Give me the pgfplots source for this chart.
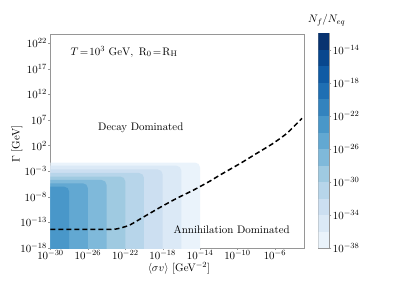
\documentclass[border=0pt]{standalone}
\usepackage{fontspec}
\usepackage{pgfplots}
\pgfplotsset{compat=1.18}
\definecolor{c0}{RGB}{234,243,251}
\definecolor{c1}{RGB}{219,233,246}
\definecolor{c2}{RGB}{204,223,241}
\definecolor{c3}{RGB}{183,213,234}
\definecolor{c4}{RGB}{159,202,225}
\definecolor{c5}{RGB}{127,185,218}
\definecolor{c6}{RGB}{98,168,210}
\definecolor{c7}{RGB}{73,151,201}
\definecolor{c8}{RGB}{51,131,190}
\definecolor{c9}{RGB}{31,111,179}
\definecolor{c10}{RGB}{16,91,164}
\definecolor{c11}{RGB}{8,71,142}
\definecolor{c12}{RGB}{8,51,112}
\definecolor{framegray}{RGB}{150,150,150}
\begin{document}
\fontsize{10.95}{13}\selectfont
\begin{tikzpicture}
\useasboundingbox (0,0) rectangle (407bp,285bp);
\begin{axis}[
  at={(50.5bp,37bp)}, anchor=south west,
  scale only axis, width=253.5bp, height=214bp,
  xmode=log, ymode=log,
  xmin=1e-30, xmax=1.3e-3, ymin=1e-18, ymax=5.7e23,
  xtick={1e-30,1e-26,1e-22,1e-18,1e-14,1e-10,1e-6},
  xticklabels={$10^{-30}$,$10^{-26}$,$10^{-22}$,$10^{-18}$,$10^{-14}$,$10^{-10}$,$10^{-6}$},
  ytick={1e-18,1e-13,1e-8,1e-3,1e2,1e7,1e12,1e17,1e22},
  yticklabels={$10^{-18}$,$10^{-13}$,$10^{-8}$,$10^{-3}$,$10^{2}$,$10^{7}$,$10^{12}$,$10^{17}$,$10^{22}$},
  xminorticks=false, yminorticks=false,
  xtick pos=bottom, ytick pos=left,
  tick align=outside, major tick length=2bp,
  axis line style={framegray, line width=0.6bp},
  tick style={framegray},
  every tick label/.append style={font=\fontsize{10.95}{13}\selectfont},
  xticklabel style={inner sep=0.5pt},
  yticklabel style={inner sep=1.5pt},
]
\addplot[fill=c0, draw=none, rounded corners=5bp] coordinates {(1e-35,1e-25) (1e-35,4.8e-2) (1e-14,4.8e-2) (1e-14,1e-25)};
\addplot[fill=c1, draw=none, rounded corners=5bp] coordinates {(1e-35,1e-25) (1e-35,1.15e-2) (1e-16,1.15e-2) (1e-16,1e-25)};
\addplot[fill=c2, draw=none, rounded corners=5bp] coordinates {(1e-35,1e-25) (1e-35,2.1e-3) (1e-18,2.1e-3) (1e-18,1e-25)};
\addplot[fill=c3, draw=none, rounded corners=5bp] coordinates {(1e-35,1e-25) (1e-35,4.3e-4) (1e-20,4.3e-4) (1e-20,1e-25)};
\addplot[fill=c4, draw=none, rounded corners=5bp] coordinates {(1e-35,1e-25) (1e-35,8.9e-5) (1e-22,8.9e-5) (1e-22,1e-25)};
\addplot[fill=c5, draw=none, rounded corners=5bp] coordinates {(1e-35,1e-25) (1e-35,1.86e-5) (1e-24,1.86e-5) (1e-24,1e-25)};
\addplot[fill=c6, draw=none, rounded corners=5bp] coordinates {(1e-35,1e-25) (1e-35,4.2e-6) (1e-26,4.2e-6) (1e-26,1e-25)};
\addplot[fill=c7, draw=none, rounded corners=5bp] coordinates {(1e-35,1e-25) (1e-35,9.1e-7) (1e-28,9.1e-7) (1e-28,1e-25)};
\addplot[black, line width=1.5bp, dash pattern=on 5bp off 3bp, smooth, tension=0.3] coordinates {
 (1e-30,4.5e-15) (3.2e-24,4.5e-15) (1e-23,5.0e-15) (4e-23,8.9e-15) (3.2e-22,3.2e-14)
 (1e-20,1.26e-12) (5e-19,7.9e-11) (3.2e-17,5e-9) (2e-15,2e-7) (1.26e-13,1.26e-5)
 (1.26e-12,1.6e-4) (2e-10,3.2e-2) (1e-8,2.5) (6.3e-7,250) (2e-5,2.5e4) (7.9e-4,2e7)};
\end{axis}
\begin{axis}[
  at={(318.3bp,36.7bp)}, anchor=south west,
  scale only axis, width=11bp, height=215bp,
  xmin=0, xmax=1, ymode=log, ymin=1e-38, ymax=1e-12,
  xtick=\empty, yminorticks=false,
  ytick={1e-38,1e-34,1e-30,1e-26,1e-22,1e-18,1e-14},
  yticklabels={$10^{-38}$,$10^{-34}$,$10^{-30}$,$10^{-26}$,$10^{-22}$,$10^{-18}$,$10^{-14}$},
  ytick pos=right, yticklabel pos=right,
  tick align=outside, major tick length=2bp,
  axis line style={framegray, line width=0.6bp},
  tick style={framegray},
  every tick label/.append style={font=\fontsize{10.95}{13}\selectfont},
  yticklabel style={inner sep=1.5pt},
]
\addplot[fill=c0, draw=none] coordinates {(0,1e-38) (1,1e-38) (1,1e-36) (0,1e-36)};
\addplot[fill=c1, draw=none] coordinates {(0,1e-36) (1,1e-36) (1,1e-34) (0,1e-34)};
\addplot[fill=c2, draw=none] coordinates {(0,1e-34) (1,1e-34) (1,1e-32) (0,1e-32)};
\addplot[fill=c3, draw=none] coordinates {(0,1e-32) (1,1e-32) (1,1e-30) (0,1e-30)};
\addplot[fill=c4, draw=none] coordinates {(0,1e-30) (1,1e-30) (1,1e-28) (0,1e-28)};
\addplot[fill=c5, draw=none] coordinates {(0,1e-28) (1,1e-28) (1,1e-26) (0,1e-26)};
\addplot[fill=c6, draw=none] coordinates {(0,1e-26) (1,1e-26) (1,1e-24) (0,1e-24)};
\addplot[fill=c7, draw=none] coordinates {(0,1e-24) (1,1e-24) (1,1e-22) (0,1e-22)};
\addplot[fill=c8, draw=none] coordinates {(0,1e-22) (1,1e-22) (1,1e-20) (0,1e-20)};
\addplot[fill=c9, draw=none] coordinates {(0,1e-20) (1,1e-20) (1,1e-18) (0,1e-18)};
\addplot[fill=c10, draw=none] coordinates {(0,1e-18) (1,1e-18) (1,1e-16) (0,1e-16)};
\addplot[fill=c11, draw=none] coordinates {(0,1e-16) (1,1e-16) (1,1e-14) (0,1e-14)};
\addplot[fill=c12, draw=none] coordinates {(0,1e-14) (1,1e-14) (1,1e-12) (0,1e-12)};
\end{axis}
\node at (124bp,233.3bp) {$T\!=\!10^3~\mathrm{GeV},~\mathrm{R}_0\!=\!\mathrm{R_H}$};
\node at (140.8bp,157.3bp) {Decay Dominated};
\node at (231.7bp,55.5bp) {Annihilation Dominated};
\node[inner sep=0pt] at (179bp,16.5bp) {$\langle\sigma v\rangle$ [GeV$^{-2}$]};
\node[rotate=90] at (17bp,141bp) {$\Gamma$ [GeV]};
\node at (326.7bp,265bp) {$N_f/N_{eq}$};
\end{tikzpicture}
\end{document}
